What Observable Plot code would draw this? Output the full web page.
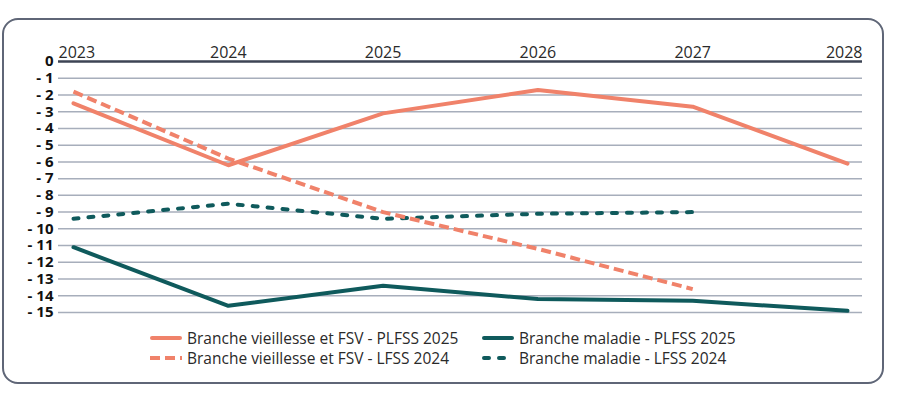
<!DOCTYPE html>
<html><head><meta charset="utf-8">
<script src="https://cdn.jsdelivr.net/npm/d3@7"></script>
<script src="https://cdn.jsdelivr.net/npm/@observablehq/plot@0.6"></script>
<style>
body{margin:0;background:#fff;font-family:"Open Sans",sans-serif;}
#wrap{position:relative;width:911px;height:395px;overflow:hidden;}
#box{position:absolute;left:2px;top:18px;width:882px;height:366px;border:2px solid #5f6677;border-radius:16px;box-sizing:border-box;}
#chart{position:absolute;left:0;top:0;}
#legend{position:absolute;left:150px;top:328px;display:grid;grid-template-columns:332px auto;font-size:15.5px;color:#2a2a2a;}
.item{display:flex;align-items:center;height:20px;white-space:nowrap;}
.item svg{margin-right:5px;flex:none;}
</style></head><body>
<div id="wrap"><div id="box"></div><div id="chart"></div><div id="legend"></div></div>
<script>
const years = [2023, 2024, 2025, 2026, 2027, 2028];
const vieillessePLFSS2025 = [-2.5, -6.2, -3.1, -1.7, -2.7, -6.1];
const vieillesseLFSS2024 = [-1.8, -5.8, -9.0, -11.2, -13.6];
const maladiePLFSS2025 = [-11.1, -14.6, -13.4, -14.2, -14.3, -14.9];
const maladieLFSS2024 = [-9.4, -8.5, -9.4, -9.1, -9.0];
const yTicks = d3.range(0, -16, -1);

const salmon = "#f0826a";
const teal = "#0f5a5c";

const series = [
  {name: "Branche vieillesse et FSV - PLFSS 2025", values: vieillessePLFSS2025, color: salmon, dash: null, cap: "round"},
  {name: "Branche maladie - PLFSS 2025", values: maladiePLFSS2025, color: teal, dash: null, cap: "round"},
  {name: "Branche vieillesse et FSV - LFSS 2024", values: vieillesseLFSS2024, color: salmon, dash: "10 5", cap: "butt"},
  {name: "Branche maladie - LFSS 2024", values: maladieLFSS2024, color: teal, dash: "5 10", cap: "round"}
];

const rows = s => s.values.map((v, i) => ({year: years[i], value: v, series: s.name}));

const textStyle = {fontSize: 16, fill: "#2a2a2a", lineAnchor: "bottom", frameAnchor: "top", dy: -4};

const chart = Plot.plot({
  width: 911,
  height: 320,
  marginLeft: 58,
  marginRight: 49,
  marginTop: 61,
  marginBottom: 8,
  style: {fontFamily: "'Open Sans', sans-serif", background: "transparent", overflow: "visible"},
  x: {domain: [2023, 2028], insetLeft: 15, insetRight: 15, axis: null},
  y: {domain: [-15, 0], axis: null},
  marks: [
    Plot.ruleY(yTicks.filter(d => d !== 0), {stroke: "#a7aebb", strokeWidth: 1.5}),
    Plot.ruleY([0], {stroke: "#3d4454", strokeWidth: 2.5}),
    ...series.slice().reverse().map(s => Plot.line(rows(s), {
      x: "year", y: "value", stroke: s.color, strokeWidth: 4,
      strokeDasharray: s.dash, strokeLinecap: s.cap, strokeLinejoin: "round"
    })),
    Plot.axisY(yTicks, {
      label: null, tickSize: 0, tickPadding: 5, fontSize: 15, fontWeight: "bold", fill: "#111",
      tickFormat: d => d === 0 ? "0" : "- " + (-d)
    }),
    Plot.text([years[0]], {x: d => d, text: d => String(d), textAnchor: "start", dx: -15, ...textStyle}),
    Plot.text(years.slice(1, -1), {x: d => d, text: d => String(d), ...textStyle}),
    Plot.text([years[years.length - 1]], {x: d => d, text: d => String(d), textAnchor: "end", dx: 15, ...textStyle})
  ]
});
document.getElementById("chart").appendChild(chart);

const legend = document.getElementById("legend");
for (const s of series) {
  const item = document.createElement("div");
  item.className = "item";
  const dash = s.dash ? `stroke-dasharray="${s.dash}"` : "";
  item.innerHTML = `<svg width="32" height="10"><line x1="${s.cap === "round" ? 2 : 0}" x2="${s.cap === "round" ? 30 : 32}" y1="5" y2="5" stroke="${s.color}" stroke-width="4" stroke-linecap="${s.cap}" ${dash}/></svg><span>${s.name}</span>`;
  legend.appendChild(item);
}
</script>
</body></html>
